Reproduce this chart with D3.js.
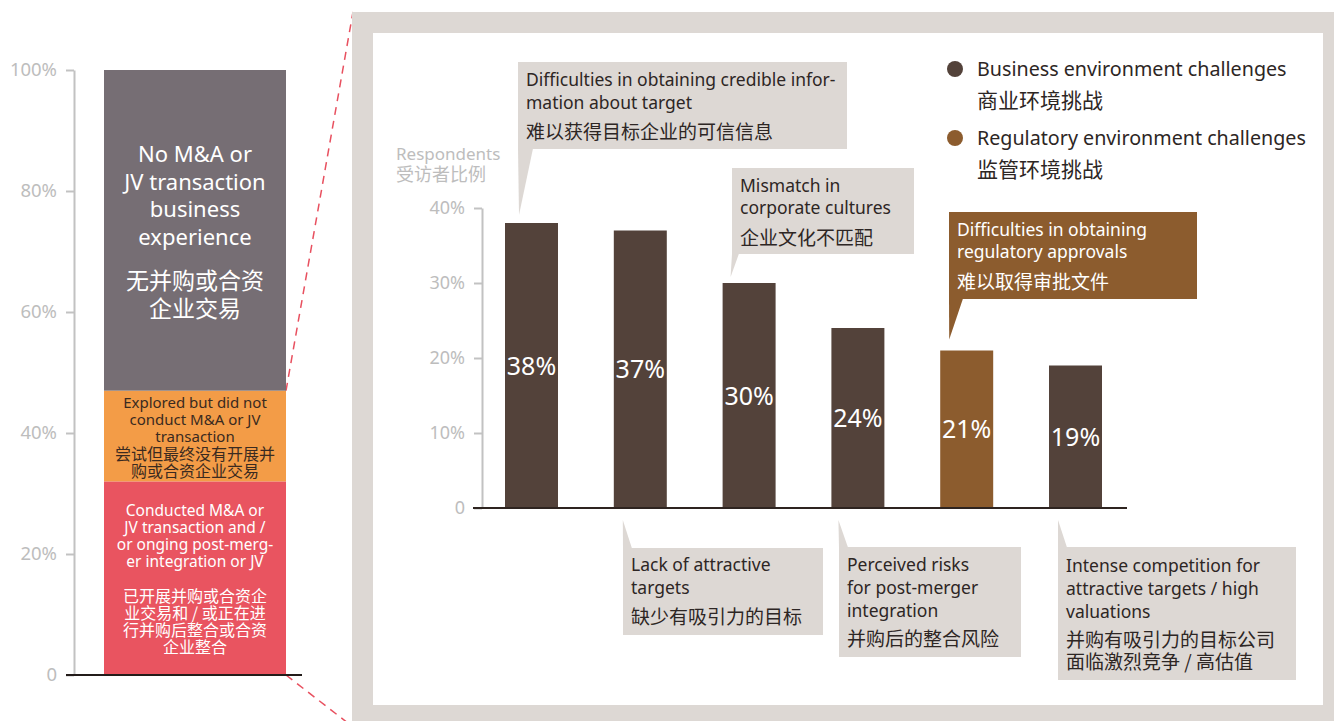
<!DOCTYPE html>
<html><head><meta charset="utf-8">
<script src="https://cdn.jsdelivr.net/npm/d3@7"></script>
<style>
html,body{margin:0;padding:0;background:#fff;}
svg{display:block;}
text{font-family:"Noto Sans","Noto Sans CJK SC",sans-serif;}
</style></head>
<body>
<svg id="chart" width="1334" height="721"></svg>
<script>
// ---------- DATA ----------
const leftSegments = ["Conducted M&A or JV transaction", "Explored but did not conduct", "No M&A or JV transaction"];
const leftValues = [32, 15, 53];
const leftTickValues = [0, 20, 40, 60, 80, 100];
const leftSegmentLines = [
  ["Conducted M&A or", "JV transaction and /", "or onging post-merg-", "er integration or JV",
   "已开展并购或合资企", "业交易和 / 或正在进", "行并购后整合或合资", "企业整合"],
  ["Explored but did not", "conduct M&A or JV", "transaction", "尝试但最终没有开展并", "购或合资企业交易"],
  ["No M&A or", "JV transaction", "business", "experience", "无并购或合资", "企业交易"]
];
const challengeNames = ["Credible information", "Attractive targets", "Corporate cultures", "Post-merger risks", "Regulatory approvals", "Competition / valuations"];
const challengeValues = [38, 37, 30, 24, 21, 19];
const challengeGroups = ["business", "business", "business", "business", "regulatory", "business"];
const rightTickValues = [0, 10, 20, 30, 40];
const legendLabels = ["Business environment challenges", "Regulatory environment challenges"];
const legendLabelsZh = ["商业环境挑战", "监管环境挑战"];
const axisTitle = ["Respondents", "受访者比例"];
const calloutTexts = [
  ["Difficulties in obtaining credible infor-", "mation about target", "难以获得目标企业的可信信息"],
  ["Lack of attractive", "targets", "缺少有吸引力的目标"],
  ["Mismatch in", "corporate cultures", "企业文化不匹配"],
  ["Perceived risks", "for post-merger", "integration", "并购后的整合风险"],
  ["Difficulties in obtaining", "regulatory approvals", "难以取得审批文件"],
  ["Intense competition for", "attractive targets / high", "valuations", "并购有吸引力的目标公司", "面临激烈竞争 / 高估值"]
];

// ---------- STYLE ----------
const segColors = ["#e95460", "#f39c47", "#766e74"];
const groupColors = {business: "#53423a", regulatory: "#8c5c2e"};
const calloutGrey = "#ddd8d4";
const axisGrey = "#c2c2c2";
const labelGrey = "#bdbdbd";
const darkText = "#2d2624";

const svg = d3.select("#chart");
const isCJK = s => /[\u4e00-\u9fff]/.test(s);

// multi-line text block as one <text> with tspans
function textBlock(parent, x, baselines, lines, opts) {
  const t = parent.append("text").attr("x", x).attr("y", baselines[0])
    .attr("fill", opts.fill).attr("text-anchor", opts.anchor || "start");
  lines.forEach((s, i) => {
    const z = isCJK(s);
    t.append("tspan").attr("x", x).attr("y", baselines[i])
      .style("font-family", z ? "'Noto Sans CJK SC','Noto Sans',sans-serif" : "'Noto Sans','Noto Sans CJK SC',sans-serif")
      .style("font-size", (z ? opts.zh : opts.en) + "px").text(s);
  });
  return t;
}

// ---------- LEFT STACKED BAR ----------
const yL = d3.scaleLinear().domain([0, 100]).range([675, 70]);
const leftBarX = 104, leftBarW = 182;
let cum = 0;
const stacked = leftValues.map((v, i) => { const s = {i, y0: cum, y1: cum + v}; cum += v; return s; });

// dashed connector lines (frame covers their ends)
const topSeg = stacked[1];
svg.append("line").attr("x1", leftBarX + leftBarW).attr("y1", yL(topSeg.y1)).attr("x2", 353).attr("y2", 12)
  .attr("stroke", "#e8505f").attr("stroke-width", 1.5).attr("stroke-dasharray", "8,6");
svg.append("line").attr("x1", leftBarX + leftBarW).attr("y1", yL(0)).attr("x2", 353).attr("y2", 727)
  .attr("stroke", "#e8505f").attr("stroke-width", 1.5).attr("stroke-dasharray", "8,6");

const axL = svg.append("g").attr("transform", "translate(74,0)")
  .call(d3.axisLeft(yL).tickValues(leftTickValues).tickSize(8).tickSizeOuter(0).tickPadding(9)
    .tickFormat(d => d === 0 ? "0" : d + "%"));
axL.select(".domain").attr("stroke", axisGrey).attr("stroke-width", 2);
axL.selectAll(".tick line").attr("stroke", axisGrey).attr("stroke-width", 2);
axL.selectAll(".tick text").attr("fill", labelGrey).style("font-size", "18.5px").style("font-family", "Noto Sans");

svg.selectAll("rect.seg").data(stacked).enter().append("rect").attr("class", "seg")
  .attr("x", leftBarX).attr("width", leftBarW)
  .attr("y", d => yL(d.y1)).attr("height", d => yL(d.y0) - yL(d.y1))
  .attr("fill", d => segColors[d.i]);

svg.append("line").attr("x1", 66).attr("x2", 302).attr("y1", yL(0)).attr("y2", yL(0))
  .attr("stroke", "#231c1a").attr("stroke-width", 2);

const segTextSpec = [
  {fill: "#ffffff", en: 15.5, zh: 16, baselines: [516, 533, 550, 567, 602, 619, 636, 653]},
  {fill: "#3a2a20", en: 15, zh: 16, baselines: [408, 425, 442, 460, 477]},
  {fill: "#ffffff", en: 22, zh: 23, baselines: [162, 189.5, 217, 244.5, 289, 317]}
];
leftSegmentLines.forEach((lines, si) => {
  const sp = segTextSpec[si];
  textBlock(svg, leftBarX + leftBarW / 2, sp.baselines, lines, {fill: sp.fill, en: sp.en, zh: sp.zh, anchor: "middle"});
});

// ---------- RIGHT PANEL FRAME ----------
svg.append("rect").attr("x", 352).attr("y", 12).attr("width", 1000).attr("height", 720).attr("fill", calloutGrey);
svg.append("rect").attr("x", 373).attr("y", 33).attr("width", 950).attr("height", 672).attr("fill", "#ffffff");

// ---------- RIGHT BAR CHART ----------
const x = d3.scaleBand().domain(challengeNames).range([477.8, 1129.2]).paddingInner(0.513).paddingOuter(0.25);
const y = d3.scaleLinear().domain([0, 40]).range([508, 208]);

const axR = svg.append("g").attr("transform", "translate(482,0)")
  .call(d3.axisLeft(y).tickValues(rightTickValues).tickSize(8).tickSizeOuter(0).tickPadding(9)
    .tickFormat(d => d === 0 ? "0" : d + "%"));
axR.select(".domain").attr("stroke", axisGrey).attr("stroke-width", 2);
axR.selectAll(".tick line").attr("stroke", axisGrey).attr("stroke-width", 2);
axR.selectAll(".tick text").attr("fill", labelGrey).style("font-size", "18px").style("font-family", "Noto Sans");

textBlock(svg, 396, [160, 181], axisTitle, {fill: labelGrey, en: 17, zh: 18});

svg.selectAll("rect.bar").data(challengeValues).enter().append("rect").attr("class", "bar")
  .attr("x", (d, i) => x(challengeNames[i])).attr("width", x.bandwidth())
  .attr("y", d => y(d)).attr("height", d => y(0) - y(d))
  .attr("fill", (d, i) => groupColors[challengeGroups[i]]);

svg.append("line").attr("x1", 473).attr("x2", 1127).attr("y1", y(0)).attr("y2", y(0))
  .attr("stroke", "#2e2420").attr("stroke-width", 2);

svg.selectAll("text.val").data(challengeValues).enter().append("text").attr("class", "val")
  .attr("x", (d, i) => x(challengeNames[i]) + x.bandwidth() / 2)
  .attr("y", d => (y(d) + y(0)) / 2).attr("dy", "0.36em")
  .attr("text-anchor", "middle").attr("fill", "#ffffff").style("font-size", "25px")
  .text(d => d + "%");

// ---------- LEGEND ----------
legendLabels.forEach((lab, i) => {
  const cy = 69 + i * 69;
  svg.append("circle").attr("cx", 955).attr("cy", cy).attr("r", 8)
    .attr("fill", i === 0 ? groupColors.business : groupColors.regulatory);
  textBlock(svg, 977, [cy + 7, cy + 39], [lab, legendLabelsZh[i]], {fill: darkText, en: 19.7, zh: 21});
});

// ---------- CALLOUTS ----------
const calloutLayout = [
  {bar: 0, top: true,  box: [518, 62, 329, 87],  tipDx: 14, tipDy: -8, baseW: 15, baselines: [86, 109, 139]},
  {bar: 1, top: false, box: [623, 548, 200, 87], tipDx: 9,  tipDy: 12, baseW: 9,  baselines: [571, 594, 624]},
  {bar: 2, top: true,  box: [732, 168, 182, 86], tipDx: 8,  tipDy: -6, baseW: 7,  baselines: [192, 214, 245]},
  {bar: 3, top: false, box: [839, 547, 182, 110], tipDx: 7, tipDy: 12, baseW: 9,  baselines: [571, 594, 617, 646]},
  {bar: 4, top: true,  box: [949, 212, 248, 87], tipDx: 9,  tipDy: -11, baseW: 14, baselines: [236, 258, 289]},
  {bar: 5, top: false, box: [1058, 547, 238, 133], tipDx: 9, tipDy: 12, baseW: 9, baselines: [572, 595, 618, 647, 669]}
];
calloutLayout.forEach((c, ci) => {
  const isReg = challengeGroups[c.bar] === "regulatory";
  const fill = isReg ? groupColors.regulatory : calloutGrey;
  const col = isReg ? "#ffffff" : darkText;
  const [bx, by, bw, bh] = c.box;
  const tx = x(challengeNames[c.bar]) + c.tipDx;
  const ty = c.top ? y(challengeValues[c.bar]) + c.tipDy : y(0) + c.tipDy;
  const baseY = c.top ? by + bh - 0.5 : by + 0.5;
  svg.append("path").attr("d", `M${bx},${baseY}L${tx},${ty}L${bx + c.baseW},${baseY}Z`).attr("fill", fill);
  svg.append("rect").attr("x", bx).attr("y", by).attr("width", bw).attr("height", bh).attr("fill", fill);
  textBlock(svg, bx + 8, c.baselines, calloutTexts[ci], {fill: col, en: 17.5, zh: 19});
});
</script>
</body></html>
